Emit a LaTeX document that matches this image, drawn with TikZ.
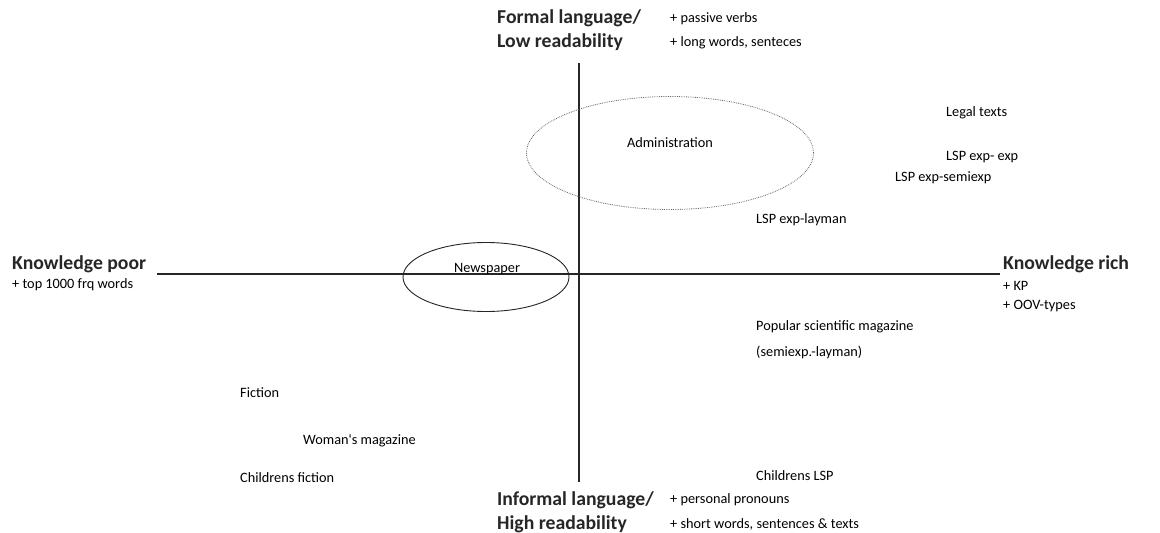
\documentclass[tikz,border=0pt]{standalone}
\usepackage{fontspec}
\setmainfont{Carlito}
\usetikzlibrary{shapes.geometric}
\begin{document}
\begin{tikzpicture}[x=1pt,y=-1pt,
  lbl/.style={font=\fontsize{14.3}{16}\selectfont, anchor=west, inner sep=0pt, text=black},
  big/.style={font=\fontsize{19.7}{22}\selectfont\bfseries, anchor=west, inner sep=0pt, text=black!85},
  axis/.style={line width=1.1pt, black!85}]
\useasboundingbox (0,0) rectangle (1160,533);
% axes
\coordinate (vt) at (579,63);
\coordinate (vb) at (579,482);
\coordinate (hl) at (157,274);
\coordinate (hr) at (1000,274);
\draw[axis] (vt) -- (vb);
\draw[axis] (hl) -- (hr);
% ellipses
\node[draw=black!60, densely dotted, line width=0.8pt, ellipse, minimum width=287pt, minimum height=113pt, inner sep=0pt] (adm) at (670,153) {};
\node[draw=black!85, line width=0.9pt, ellipse, minimum width=166pt, minimum height=69pt, inner sep=0pt] (news) at (486,277) {};
% axis labels
\node[big] (formal) at (497,18) {Formal language/};
\node[big] (low) at (497,42) {Low readability};
\node[lbl] (pv) at (670,19) {+ passive verbs};
\node[lbl] (lw) at (670,43) {+ long words, senteces};
\node[big] (kp) at (12,264) {Knowledge poor};
\node[lbl] (top) at (12,285) {+ top 1000 frq words};
\node[big] (kr) at (1003,264) {Knowledge rich};
\node[lbl] (kpp) at (1003,286) {+ KP};
\node[lbl] (oov) at (1003,306) {+ OOV-types};
\node[big] (inf) at (497,500) {Informal language/};
\node[big] (high) at (497,524) {High readability};
\node[lbl] (pp) at (670,500) {+ personal pronouns};
\node[lbl] (sw) at (670,524) {+ short words, sentences \& texts};
% items
\node[lbl, anchor=center] (admt) at (670,143) {Administration};
\node[lbl, anchor=center] (newst) at (487,269) {Newspaper};
\node[lbl] (legal) at (946,113) {Legal texts};
\node[lbl] (ee) at (946,157) {LSP exp- exp};
\node[lbl] (es) at (895,178) {LSP exp-semiexp};
\node[lbl] (el) at (756,220) {LSP exp-layman};
\node[lbl] (pop) at (756,327) {Popular scientific magazine};
\node[lbl] (semi) at (756,352) {(semiexp.-layman)};
\node[lbl] (fic) at (240,393) {Fiction};
\node[lbl] (wom) at (303,441) {Woman\textquotesingle s magazine};
\node[lbl] (cf) at (240,478) {Childrens fiction};
\node[lbl] (clsp) at (756,476) {Childrens LSP};
\end{tikzpicture}
\end{document}
